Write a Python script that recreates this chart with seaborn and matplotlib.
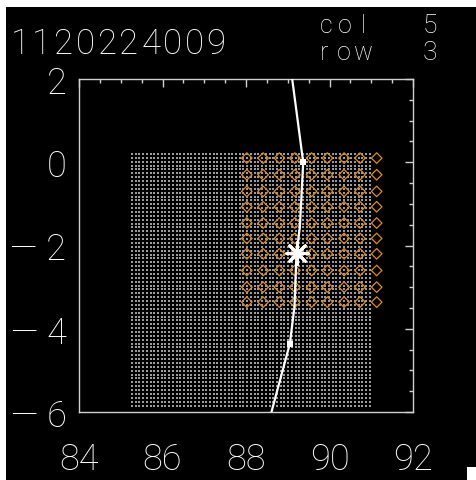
import matplotlib
matplotlib.use("Agg")
import matplotlib.pyplot as plt
from matplotlib.patches import Rectangle
from matplotlib.ticker import MultipleLocator
import numpy as np
import pandas as pd
import seaborn as sns

# ---- data ----
obs_id = "1120224009"
col_num = 5
row_num = 3

# fine sampling grid (white dots)
grid_x_start, grid_x_stop, grid_x_step = 85.27, 91.04, 0.089
grid_y_start, grid_y_stop, grid_y_step = 0.20, -5.87, -0.093

# diamond detector positions
diamond_x = [88.02, 88.41, 88.80, 89.17, 89.57, 89.95, 90.35, 90.73, 91.13]
diamond_y = [0.10, -0.30, -0.70, -1.07, -1.46, -1.83, -2.20, -2.60, -3.00, -3.36]

# track line
track_x = [89.08, 89.37, 89.29, 89.21, 89.16, 89.05, 88.61, 88.55]
track_y = [2.20, 0.00, -1.56, -2.18, -3.48, -4.36, -6.00, -6.20]

# square markers on the track
square_x = [89.37, 89.05]
square_y = [0.00, -4.36]

# centre (asterisk)
centre_x = [89.21]
centre_y = [-2.18]

x_ticks = [84, 86, 88, 90, 92]
x_labels = ["84", "86", "88", "90", "92"]
y_ticks = [-6, -4, -2, 0, 2]
y_labels = ["\u2014 6", "\u2014 4", "\u2014 2", "0", "2"]

# ---- figure ----
sns.set_style("dark")
plt.rcParams["font.family"] = ["Roboto", "DejaVu Sans"]

W, H = 477, 481
fig = plt.figure(figsize=(W / 100, H / 100), dpi=100, facecolor="black")

# white frame strips at the top and left, small corner at bottom right
fig.patches.append(Rectangle((0, 1 - 8 / H), 1, 8 / H, transform=fig.transFigure,
                             facecolor="white", edgecolor="none", zorder=0))
fig.patches.append(Rectangle((0, 0), 6 / W, 1, transform=fig.transFigure,
                             facecolor="white", edgecolor="none", zorder=0))
fig.patches.append(Rectangle((467 / W, 0), 10 / W, 13 / H, transform=fig.transFigure,
                             facecolor="white", edgecolor="none", zorder=0))

ax = fig.add_axes([79 / W, (H - 413) / H, 334 / W, 333 / H])
ax.set_facecolor("black")

gx = np.arange(grid_x_start, grid_x_stop + 1e-6, grid_x_step)
gy = np.arange(grid_y_start, grid_y_stop - 1e-6, grid_y_step)
GX, GY = np.meshgrid(gx, gy)
grid_df = pd.DataFrame({"x": GX.ravel(), "y": GY.ravel()})
sns.scatterplot(data=grid_df, x="x", y="y", ax=ax, marker="s", s=0.9,
                color="#9c9c9c", linewidth=0, zorder=1)

DX, DY = np.meshgrid(diamond_x, diamond_y)
diam_df = pd.DataFrame({"x": DX.ravel(), "y": DY.ravel()})
sns.scatterplot(data=diam_df, x="x", y="y", ax=ax, marker="D", s=29,
                facecolor="none", edgecolor="#dc8a28", linewidth=0.9, zorder=2)

track_df = pd.DataFrame({"x": track_x, "y": track_y})
sns.lineplot(data=track_df, x="x", y="y", ax=ax, sort=False, estimator=None,
             color="white", linewidth=1.6, zorder=3)

sq_df = pd.DataFrame({"x": square_x, "y": square_y})
sns.scatterplot(data=sq_df, x="x", y="y", ax=ax, marker="s", s=22,
                color="white", linewidth=0, zorder=4)

c_df = pd.DataFrame({"x": centre_x, "y": centre_y})
sns.scatterplot(data=c_df, x="x", y="y", ax=ax, marker=(8, 2, 0), s=250,
                color="white", edgecolor="white", linewidth=2.0, zorder=5)

ax.set_xlim(84, 92)
ax.set_ylim(-6, 2)
ax.set_xlabel("")
ax.set_ylabel("")
ax.grid(False)

ax.set_xticks(x_ticks)
ax.set_xticklabels(x_labels)
ax.set_yticks(y_ticks)
ax.set_yticklabels(y_labels)
ax.xaxis.set_minor_locator(MultipleLocator(0.5))
ax.yaxis.set_minor_locator(MultipleLocator(0.5))
ax.tick_params(which="both", direction="in", top=True, right=True,
               colors="#d0d0d0", width=1.0)
ax.tick_params(which="major", length=5.5)
ax.tick_params(which="minor", length=2.8)
ax.tick_params(axis="x", which="major", pad=21, labelsize=26, labelcolor="white")
ax.tick_params(axis="y", which="major", pad=9, labelsize=26, labelcolor="white")
for lab in ax.get_xticklabels() + ax.get_yticklabels():
    lab.set_fontweight("light")

for sp in ax.spines.values():
    sp.set_color("#d0d0d0")
    sp.set_linewidth(1.0)
    sp.set_visible(True)


def spaced_text(s, x0, step, y, size):
    """Write a string one glyph at a time with a fixed advance (in pixels)."""
    for i, ch in enumerate(s):
        fig.text((x0 + i * step) / W, 1 - y / H, ch, color="white", fontsize=size,
                 fontweight="light", ha="center", va="center")


# header texts
spaced_text(obs_id, 20, 21.8, 44, 25)
spaced_text("col", 326, 18.5, 26, 18)
spaced_text("row", 324, 19.5, 53, 18)
spaced_text(str(col_num), 430, 0, 26, 19)
spaced_text(str(row_num), 430, 0, 53, 19)

fig.savefig("out.png", dpi=100, facecolor="black")
